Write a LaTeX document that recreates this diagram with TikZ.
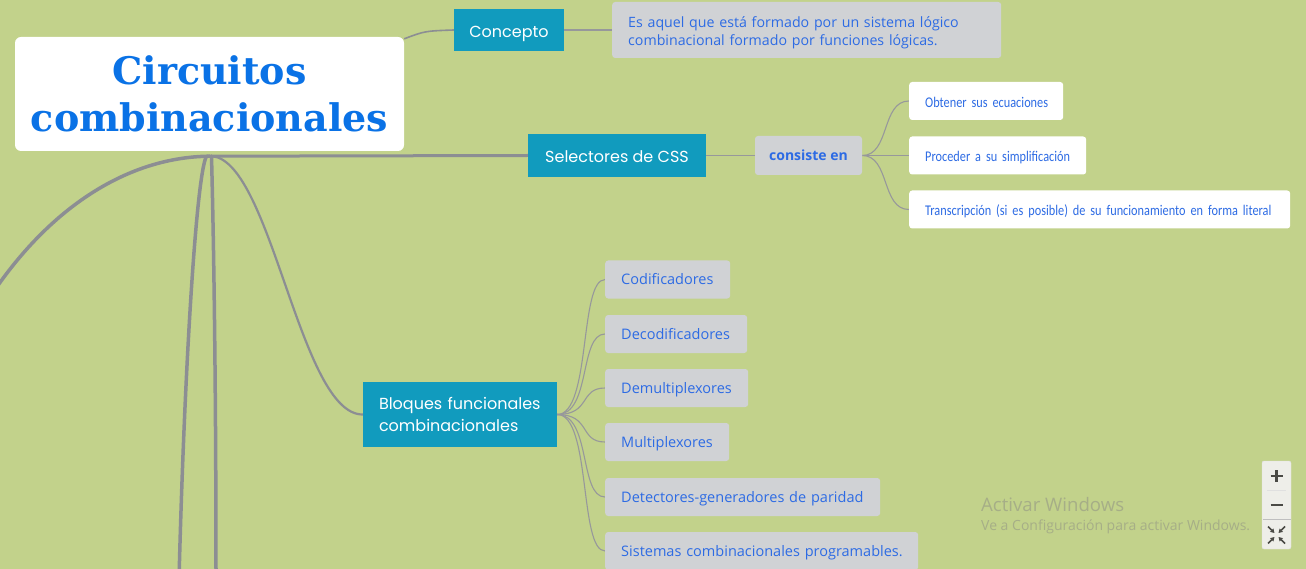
\documentclass[tikz,border=0pt]{standalone}
\usepackage{fontspec}
\usetikzlibrary{arrows.meta}
\newfontfamily\titlefont{DejaVu Serif}
\newfontfamily\tealfont{Poppins}
\newfontfamily\osfont{Open Sans}
\newfontfamily\condfont[FakeStretch=0.83]{Carlito}
\definecolor{bgc}{HTML}{C2D28B}
\definecolor{tealc}{HTML}{119BBE}
\definecolor{grayc}{HTML}{D0D2D5}
\definecolor{bluec}{HTML}{2D6BE4}
\definecolor{titleblue}{HTML}{0A72E6}
\definecolor{thickc}{HTML}{8C8E93}
\definecolor{thinc}{HTML}{97989B}
\definecolor{wmc}{HTML}{A6AE87}
\definecolor{ctlc}{HTML}{EEEEE9}
\definecolor{iconc}{HTML}{4A4A45}
\pgfdeclarelayer{bglayer}
\pgfdeclarelayer{background}
\pgfsetlayers{bglayer,background,main}
\tikzset{
  tealbox/.style={fill=tealc, text=white, inner sep=0pt, font=\tealfont\fontsize{16}{22}\selectfont},
  tealone/.style={tealbox, text height=14.6pt, text depth=0pt},
  graybox/.style={fill=grayc, rounded corners=3pt, text=bluec, inner ysep=0pt, inner xsep=16pt, anchor=west, align=left, minimum height=38pt, text height=12.5pt, text depth=1.5pt, font=\osfont\fontsize{14.5}{18}\selectfont},
  whitebox/.style={fill=white, rounded corners=3pt, text=bluec, inner ysep=0pt, inner xsep=16pt, anchor=west, align=left, minimum height=38pt, text height=12.5pt, text depth=0pt, font=\condfont\fontsize{14.8}{17}\selectfont},
  thickline/.style={draw=thickc, line width=3.5pt, line cap=round},
  thinline/.style={draw=thinc, line width=1.1pt},
  wmtext/.style={text=wmc, anchor=west, inner sep=0pt},
}
\begin{document}
\begin{tikzpicture}[x=1pt,y=-1pt]
\begin{pgfonlayer}{bglayer}
\fill[bgc] (0,0) rectangle (1306,569);
\end{pgfonlayer}
\useasboundingbox (0,0) rectangle (1306,569);
\clip (0,0) rectangle (1306,569);

% root
\node[fill=white, rounded corners=6pt, minimum width=389pt, minimum height=114pt, inner sep=0pt,
      text=titleblue, align=center, font=\titlefont\bfseries\fontsize{38}{47}\selectfont] (root) at (209.5,94) {Circuitos\\combinacionales};
\coordinate (hub) at ([yshift=-5pt]root.south);

% concepto
\node[tealone, minimum width=110pt, minimum height=42pt] (concepto) at (509,30) {Concepto};
\node[fill=grayc, rounded corners=3pt, text=bluec, inner ysep=0pt, inner xsep=16pt, anchor=west, align=left,
      minimum height=56pt, text width=357pt, font=\osfont\fontsize{14.2}{18}\selectfont] (desc) at (612,30) {\rule{0pt}{17pt}\mbox{Es aquel que está formado por un sistema lógico}\\\mbox{combinacional formado por funciones lógicas.}};

% selectores
\node[tealone, minimum width=178pt, minimum height=43pt] (sel) at (617,155.5) {Selectores de CSS};
\node[fill=grayc, rounded corners=3pt, minimum width=107pt, minimum height=39pt, inner sep=0pt, text=bluec,
      font=\osfont\bfseries\fontsize{14}{18}\selectfont] (cons) at (808.5,155.5) {consiste en};
\node[whitebox, text width=122pt] (ob1) at (909,101) {\mbox{Obtener sus ecuaciones}};
\node[whitebox, text width=145pt] (ob2) at (909,155.5) {\mbox{Proceder a su simplificación}};
\node[whitebox, text width=349pt] (ob3) at (909,209.5) {\mbox{Transcripción (si es posible) de su funcionamiento en forma literal}};

% bloques
\node[tealbox, minimum width=194pt, minimum height=65pt, align=left, text width=162pt, inner xsep=16pt] (bloq) at (460,414.5) {\mbox{Bloques funcionales}\\\mbox{combinacionales}};
\node[graybox, text width=93pt] (b1) at (605,279.5) {\mbox{Codificadores}};
\node[graybox, text width=110pt] (b2) at (605,334) {\mbox{Decodificadores}};
\node[graybox, text width=111pt] (b3) at (605,388) {\mbox{Demultiplexores}};
\node[graybox, text width=92pt] (b4) at (605,442) {\mbox{Multiplexores}};
\node[graybox, text width=243pt] (b5) at (605,497) {\mbox{Detectores-generadores de paridad}};
\node[graybox, text width=281pt] (b6) at (605,551) {\mbox{Sistemas combinacionales programables.}};

% off-page ends
\coordinate (offL) at (-12,300);
\coordinate (offB1) at (179,580);
\coordinate (offB2) at (216,580);

\begin{pgfonlayer}{background}
\draw[thickline] (hub) .. controls (130,157) and (50,205) .. (offL);
\draw[thickline] ([xshift=-3pt]hub) .. controls (196,175) and (184,380) .. (offB1);
\draw[thickline] ([xshift=2pt]hub) .. controls (214,250) and (216,400) .. (offB2);
\draw[thickline, line width=2.2pt] ([xshift=3pt]hub) .. controls (272,163) and (300,415) .. (bloq.west);
\draw[thickline, line width=3pt] (hub) -- (sel.west);
\draw[draw=thickc, line width=1.6pt] ([yshift=-2pt]root.north east) .. controls (425,31) .. (concepto.west);
\draw[thinline] (concepto.east) -- (desc.west);
\draw[thinline, line width=1.3pt] (sel.east) -- (cons.west);
\foreach \t in {ob1,ob2,ob3}
  \draw[thinline] (cons.east) .. controls +(28,0) and +(-28,0) .. (\t.west);
\foreach \t in {b1,b2,b3,b4,b5,b6}
  \draw[thinline] (bloq.east) .. controls +(34,0) and +(-26,0) .. (\t.west);
\end{pgfonlayer}

% windows watermark
\node[wmtext, font=\osfont\fontsize{18.6}{20}\selectfont] (wm1) at (981,505) {Activar Windows};
\node[wmtext, font=\osfont\fontsize{14}{16}\selectfont] (wm2) at (981,527) {Ve a Configuración para activar Windows.};

% zoom control
\node[fill=ctlc, draw=black!12, rounded corners=2pt, minimum width=29pt, minimum height=88pt, inner sep=0pt] (ctl) at (1276.5,505) {};
\draw[black!12, line width=0.6pt] (1267,490) -- (1286,490);
\draw[black!25, line width=0.8pt] (1262.5,519) -- (1290.5,519);
\draw[iconc, line width=2.2pt] (1270.5,476) -- (1282.5,476) (1276.5,470) -- (1276.5,482);
\draw[iconc, line width=2.4pt] (1270.5,505) -- (1282.5,505);
\foreach \sx/\sy in {-1/-1,1/-1,-1/1,1/1}
  \draw[iconc, line width=1.5pt, -{Triangle[length=4pt,width=4.5pt]}] (1276.5+\sx*8.5,535+\sy*8.5) -- (1276.5+\sx*2,535+\sy*2);
\end{tikzpicture}
\end{document}
